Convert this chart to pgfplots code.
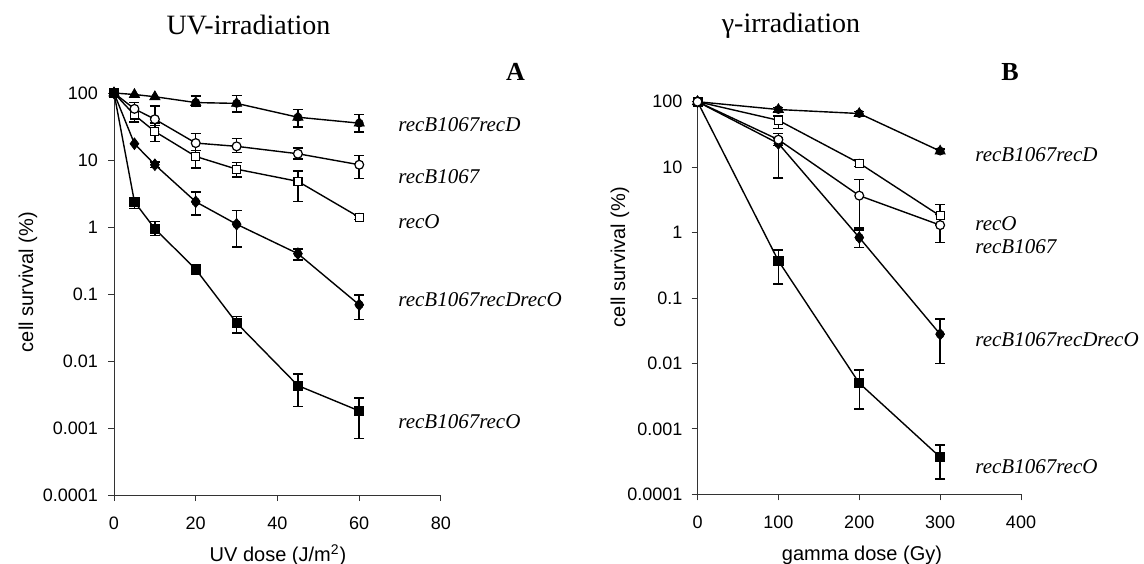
\documentclass[border=0pt]{standalone}
\usepackage{fontspec}
\setmainfont{Liberation Serif}
\newfontfamily\arial{Liberation Sans}
\usepackage{pgfplots}
\pgfplotsset{compat=1.18}

\pgfplotsset{
  ebar/.style={only marks, mark=none, forget plot,
    error bars/y dir=both, error bars/y explicit,
    error bars/error bar style={line width=0.75pt},
    error bars/error mark options={rotate=90, mark size=2.5pt, line width=0.75pt}},
  tri/.style={black, line width=0.7pt, mark=triangle*, mark size=2.9pt, mark options={fill=black, line width=0.4pt}},
  ocirc/.style={black, line width=0.7pt, mark=*, mark size=2.2pt, mark options={fill=white, draw=black, line width=0.6pt}},
  osq/.style={black, line width=0.7pt, mark=square*, mark size=2pt, mark options={fill=white, draw=black, line width=0.6pt}},
  dia/.style={black, line width=0.7pt, mark=diamond*, mark size=2.9pt, mark options={fill=black, line width=0.4pt}},
  fsq/.style={black, line width=0.7pt, mark=square*, mark size=2.3pt, mark options={fill=black, line width=0.4pt}},
}
\newcommand{\lab}[1]{\fontsize{10.5}{12}\selectfont\textit{#1}}
\newcommand{\tickfont}{\arial\fontsize{9}{10}\selectfont}

\begin{document}
\begin{tikzpicture}
\useasboundingbox (0,0) rectangle (572pt,-281.5pt);

% ---------- panel A: UV ----------
\begin{axis}[at={(57pt,-247.5pt)}, anchor=south west,
  scale only axis, width=163.5pt, height=201pt, clip=false,
  ymode=log, ymin=0.0001, ymax=100,
  xmin=0, xmax=80, xtick={0,20,40,60,80}, xticklabels={0,20,40,60,80},
  ytick={0.0001,0.001,0.01,0.1,1,10,100},
  yticklabels={0.0001,0.001,0.01,0.1,1,10,100},
  yminorticks=false,
  axis x line*=bottom, axis y line*=left,
  axis line style={line width=0.5pt, black!80},
  tick align=outside, major tick length=3pt,
  tick style={black!80, line width=0.5pt},
  tick label style={font=\tickfont},
  xticklabel style={yshift=-4.5pt},
  yticklabel style={xshift=-1.5pt}]
% error bars
\addplot[black, ebar] coordinates {(20,72) += (0,18) -= (0,9) (30,70) += (0,22) -= (0,18)
  (45,43.5) += (0,13.5) -= (0,12.5) (60,35.5) += (0,12.5) -= (0,9.5)};
\addplot[black, ebar] coordinates {(5,58) += (0,14) -= (0,21) (10,40.6) += (0,23) -= (0,8)
  (20,17.9) += (0,7) -= (0,4) (30,16) += (0,5) -= (0,3)
  (45,12.4) += (0,2.6) -= (0,2.1) (60,8.5) += (0,3.1) -= (0,3.2)};
\addplot[black, ebar] coordinates {(10,26.6) += (0,9) -= (0,7.6) (20,11.3) += (0,2.6) -= (0,3.7)
  (30,7.3) += (0,1.9) -= (0,1.7) (45,4.8) += (0,2.1) -= (0,2.4) (60,1.4) += (0,0.1) -= (0,0.1)};
\addplot[black, ebar] coordinates {(10,8.5) += (0,0.8) -= (0,0.8) (20,2.38) += (0,0.97) -= (0,0.88)
  (30,1.1) += (0,0.67) -= (0,0.6) (45,0.4) += (0,0.07) -= (0,0.08) (60,0.069) += (0,0.027) -= (0,0.027)};
\addplot[black, ebar] coordinates {(5,2.38) += (0,0.4) -= (0,0.5) (10,0.94) += (0,0.26) -= (0,0.19)
  (20,0.234) += (0,0.036) -= (0,0.034) (30,0.037) += (0,0.009) -= (0,0.011)
  (45,0.0043) += (0,0.0021) -= (0,0.0022) (60,0.0018) += (0,0.001) -= (0,0.0011)};
% curves
\addplot[tri] coordinates {(0,100) (5,95) (10,88) (20,72) (30,70) (45,43.5) (60,35.5)};
\addplot[osq] coordinates {(0,100) (5,47) (10,26.6) (20,11.3) (30,7.3) (45,4.8) (60,1.4)};
\addplot[ocirc] coordinates {(0,100) (5,58) (10,40.6) (20,17.9) (30,16) (45,12.4) (60,8.5)};
\addplot[dia] coordinates {(0,100) (5,17.5) (10,8.5) (20,2.38) (30,1.1) (45,0.4) (60,0.069)};
\addplot[fsq] coordinates {(0,100) (5,2.38) (10,0.94) (20,0.234) (30,0.037) (45,0.0043) (60,0.0018)};
\end{axis}

% ---------- panel B: gamma ----------
\begin{axis}[at={(348.75pt,-247.15pt)}, anchor=south west,
  scale only axis, width=161.75pt, height=196.3pt, clip=false,
  ymode=log, ymin=0.0001, ymax=100,
  xmin=0, xmax=400, xtick={0,100,200,300,400}, xticklabels={0,100,200,300,400},
  ytick={0.0001,0.001,0.01,0.1,1,10,100},
  yticklabels={0.0001,0.001,0.01,0.1,1,10,100},
  yminorticks=false,
  axis x line*=bottom, axis y line*=left,
  axis line style={line width=0.5pt, black!80},
  tick align=outside, major tick length=3pt,
  tick style={black!80, line width=0.5pt},
  tick label style={font=\tickfont},
  xticklabel style={yshift=-4.5pt},
  yticklabel style={xshift=-1pt}]
\addplot[black, ebar] coordinates {(100,76) += (0,5) -= (0,5) (200,66) += (0,5) -= (0,5) (300,17.6) += (0,1.5) -= (0,1.5)};
\addplot[black, ebar] coordinates {(100,52) += (0,8) -= (0,13) (200,11.5) += (0,1.3) -= (0,1.2) (300,1.8) += (0,0.9) -= (0,0.5)};
\addplot[black, ebar] coordinates {(100,26.3) += (0,6.3) -= (0,5) (200,3.67) += (0,2.83) -= (0,2.5) (300,1.3) += (0,0.6) -= (0,0.6)};
\addplot[black, ebar] coordinates {(100,23) += (0,5) -= (0,16.2) (200,0.84) += (0,0.26) -= (0,0.25) (300,0.028) += (0,0.02) -= (0,0.018)};
\addplot[black, ebar] coordinates {(100,0.37) += (0,0.17) -= (0,0.205) (200,0.005) += (0,0.003) -= (0,0.003) (300,0.00037) += (0,0.0002) -= (0,0.0002)};
\addplot[tri] coordinates {(0,100) (100,76) (200,66) (300,17.6)};
\addplot[dia] coordinates {(0,100) (100,23) (200,0.84) (300,0.028)};
\addplot[fsq] coordinates {(0,100) (100,0.37) (200,0.005) (300,0.00037)};
\addplot[osq] coordinates {(0,100) (100,52) (200,11.5) (300,1.8)};
\addplot[ocirc] coordinates {(0,100) (100,26.3) (200,3.67) (300,1.3)};
\end{axis}

% titles and panel letters
\node[font=\fontsize{14}{16}\selectfont] at (124.25pt,-12.5pt) {UV-irradiation};
\node[font=\fontsize{14}{16}\selectfont] at (395.5pt,-13pt) {γ-irradiation};
\node[font=\fontsize{13}{15}\selectfont\bfseries] at (257.75pt,-36pt) {A};
\node[font=\fontsize{13}{15}\selectfont\bfseries] at (505pt,-36pt) {B};

% axis titles
\node[font=\arial\fontsize{10}{12}\selectfont, rotate=90] at (14pt,-141pt) {cell survival (\%)};
\node[font=\arial\fontsize{10}{12}\selectfont, rotate=90] at (310pt,-128.5pt) {cell survival (\%)};
\node[font=\arial\fontsize{10}{12}\selectfont] at (139pt,-277.5pt) {UV dose (J/m\textsuperscript{2})};
\node[font=\arial\fontsize{10}{12}\selectfont] at (431pt,-277.5pt) {gamma dose (Gy)};

% curve labels
\node[anchor=west, inner sep=0pt] at (199pt,-62.5pt) {\lab{recB1067recD}};
\node[anchor=west, inner sep=0pt] at (199pt,-88.5pt) {\lab{recB1067}};
\node[anchor=west, inner sep=0pt] at (199pt,-111pt) {\lab{recO}};
\node[anchor=west, inner sep=0pt] at (199pt,-150pt) {\lab{recB1067recDrecO}};
\node[anchor=west, inner sep=0pt] at (199pt,-211pt) {\lab{recB1067recO}};
\node[anchor=west, inner sep=0pt] at (487.5pt,-77.5pt) {\lab{recB1067recD}};
\node[anchor=west, inner sep=0pt] at (487.5pt,-112pt) {\lab{recO}};
\node[anchor=west, inner sep=0pt] at (487.5pt,-123.5pt) {\lab{recB1067}};
\node[anchor=west, inner sep=0pt] at (487.5pt,-170pt) {\lab{recB1067recDrecO}};
\node[anchor=west, inner sep=0pt] at (487.5pt,-233.5pt) {\lab{recB1067recO}};
\end{tikzpicture}
\end{document}
